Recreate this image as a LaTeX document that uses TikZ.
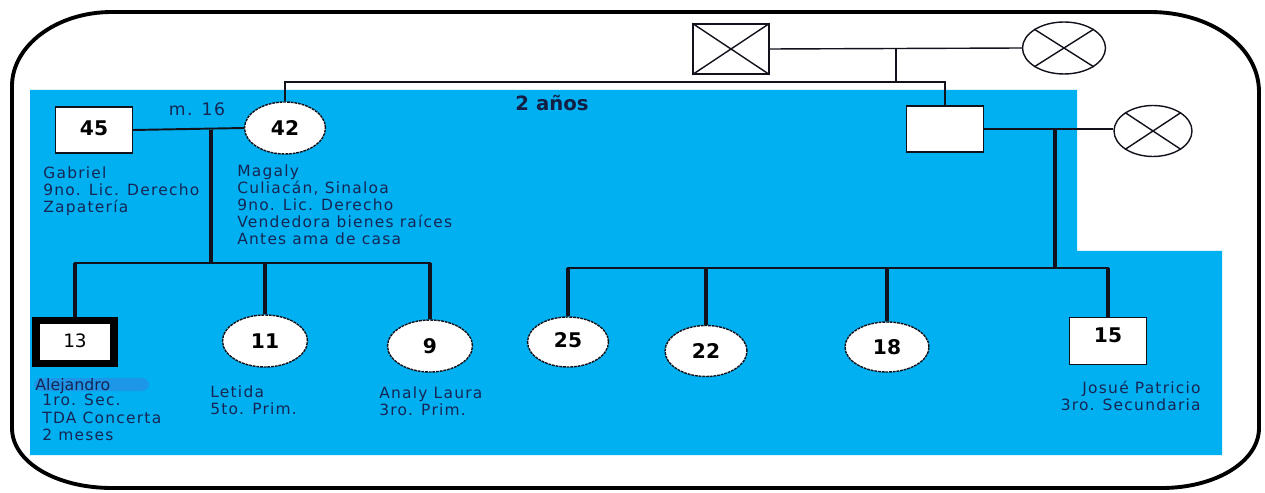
\documentclass[tikz,border=0pt]{standalone}
\usepackage{fontspec}
\usetikzlibrary{shapes.geometric}
\newfontfamily\lblfont[LetterSpace=8]{DejaVu Sans}
\newfontfamily\numfont{DejaVu Sans}
\definecolor{genoblue}{RGB}{0,176,240}
\definecolor{alejbg}{RGB}{30,150,232}
\definecolor{inkline}{RGB}{18,18,28}
\definecolor{inktext}{RGB}{22,38,84}
\begin{document}
\begin{tikzpicture}[x=0.02cm,y=-0.02cm,
  person/.style={draw=inkline, fill=white, line width=0.8pt, inner sep=0pt,
    text=black, font=\numfont\bfseries\fontsize{11.5}{13}\selectfont},
  male/.style={person, rectangle},
  female/.style={person, ellipse, dash pattern=on 1.6pt off 0.5pt},
  info/.style={font=\lblfont\fontsize{8.8}{9.8}\selectfont, text=inktext,
    align=left, anchor=north west, inner sep=0pt},
  kinline/.style={draw=inkline, line width=0.8pt},
  bond/.style={draw=inkline, line width=1.1pt},
  sibbar/.style={draw=inkline, line width=1.5pt},
  descent/.style={draw=inkline, line width=1.9pt}]
% canvas
\useasboundingbox (0,0) rectangle (1265,493);
\fill[white] (0,0) rectangle (1265,493);
% household area
\fill[genoblue] (30,90) -- (1077,90) -- (1077,251) -- (1222,251)
  -- (1222,455) -- (30,455) -- cycle;
% outer frame
\draw[black, line width=2.2pt]
  (12,86) .. controls (12,46) and (56,12) .. (112,12)
  -- (1150,12) .. controls (1210,12) and (1259,46) .. (1259,92)
  -- (1259,428) .. controls (1259,462) and (1215,488) .. (1162,488)
  -- (112,488) .. controls (56,488) and (12,462) .. (12,428) -- cycle;

% grandparents
\node[male, minimum width=1.52cm, minimum height=1.0cm] (gf) at (731,49) {};
\node[female, solid, minimum width=1.66cm, minimum height=1.04cm] (gm) at (1064,48) {};
\draw[kinline] (gf.north west) -- (gf.south east) (gf.north east) -- (gf.south west);
\draw[kinline] (gm.north west) -- (gm.south east) (gm.north east) -- (gm.south west);

% parents generation
\node[male, minimum width=1.54cm, minimum height=0.92cm] (gab) at (94,130) {\raisebox{2pt}{45}};
\node[female, minimum width=1.62cm, minimum height=1.04cm] (mag) at (285,128) {42};
\node[male, minimum width=1.54cm, minimum height=0.92cm] (unc) at (945,129) {};
\node[female, solid, minimum width=1.56cm, minimum height=1.02cm] (ucw) at (1153,131) {};
\draw[kinline] (ucw.north west) -- (ucw.south east) (ucw.north east) -- (ucw.south west);

% children of Gabriel and Magaly
\node[male, line width=4pt, draw=black, minimum width=1.56cm, minimum height=0.86cm,
  font=\numfont\fontsize{10.5}{12}\selectfont] (ale) at (75,342) {\raisebox{2pt}{13}};
\node[female, minimum width=1.7cm, minimum height=1.04cm] (let) at (265,341) {11};
\node[female, minimum width=1.7cm, minimum height=1.04cm] (ana) at (430,346) {9};

% children of the uncle
\node[female, minimum width=1.62cm, minimum height=1.0cm] (c25) at (568,342) {\raisebox{2pt}{25}};
\node[female, minimum width=1.64cm, minimum height=1.02cm] (c22) at (706,351) {22};
\node[female, minimum width=1.68cm, minimum height=1.0cm] (c18) at (887,347) {18};
\node[male, minimum width=1.54cm, minimum height=0.94cm] (c15) at (1108,341)
  {\raisebox{7pt}{15}};

% junction points
\coordinate (gpj) at (896,49);
\coordinate (sib) at (896,82);
\coordinate (m1) at (211,130);
\coordinate (c1) at (211,263);
\coordinate (m2) at (1055,129);
\coordinate (c2) at (1055,268);

% grandparents and their children
\draw[kinline] (gf.east) -- (gm.west);
\draw[kinline] (gpj) -- (sib);
\draw[bond] (mag.north) |- (sib) -| (unc.north);

% Gabriel -- Magaly and their children
\draw[bond] (gab.east) -- (mag.west);
\draw[descent] (m1) -- (c1);
\draw[sibbar] (ale.north) |- (c1) -| (ana.north);
\draw[descent] (ale.north) -- (ale.north |- c1);
\draw[descent] (let.north) -- (let.north |- c1);
\draw[descent] (ana.north) -- (ana.north |- c1);

% uncle and his children
\draw[kinline] (unc.east) -- (unc.east -| ucw.west);
\draw[descent] (m2) -- (c2);
\draw[sibbar] (c25.north) |- (c2) -| (c15.north);
\draw[descent] (c25.north) -- (c25.north |- c2);
\draw[descent] (c22.north) -- (c22.north |- c2);
\draw[descent] (c18.north) -- (c18.north |- c2);
\draw[descent] (c15.north) -- (c15.north |- c2);

% labels
\node[font=\lblfont\fontsize{9.8}{11}\selectfont, text=inktext] (mlab) at (197,109) {m. 16};
\node[font=\numfont\bfseries\fontsize{11.2}{13}\selectfont, text=inktext!80!black] (dur) at (552,103) {2 años};
\node[info] (gabtxt) at (43,166) {Gabriel\\9no. Lic. Derecho\\Zapatería};
\node[info] (magtxt) at (237,164) {Magaly\\Culiacán, Sinaloa\\9no. Lic. Derecho\\Vendedora bienes raíces\\Antes ama de casa};
\fill[alejbg, rounded corners=4pt] (34,378) rectangle (149,391);
\node[font=\numfont\fontsize{9}{10}\selectfont, text=inktext, anchor=west, inner sep=0pt]
  (aletxt) at (35,386) {Alejandro};
\node[info] (aleinfo) at (42,394) {1ro. Sec.\\TDA Concerta\\2 meses};
\node[info] (lettxt) at (210,385) {Letida\\5to. Prim.};
\node[info] (anatxt) at (379,386) {Analy Laura\\3ro. Prim.};
\node[info, anchor=north east, align=right] (c15txt) at (1201,381) {Josué Patricio\\3ro. Secundaria};
\end{tikzpicture}
\end{document}
